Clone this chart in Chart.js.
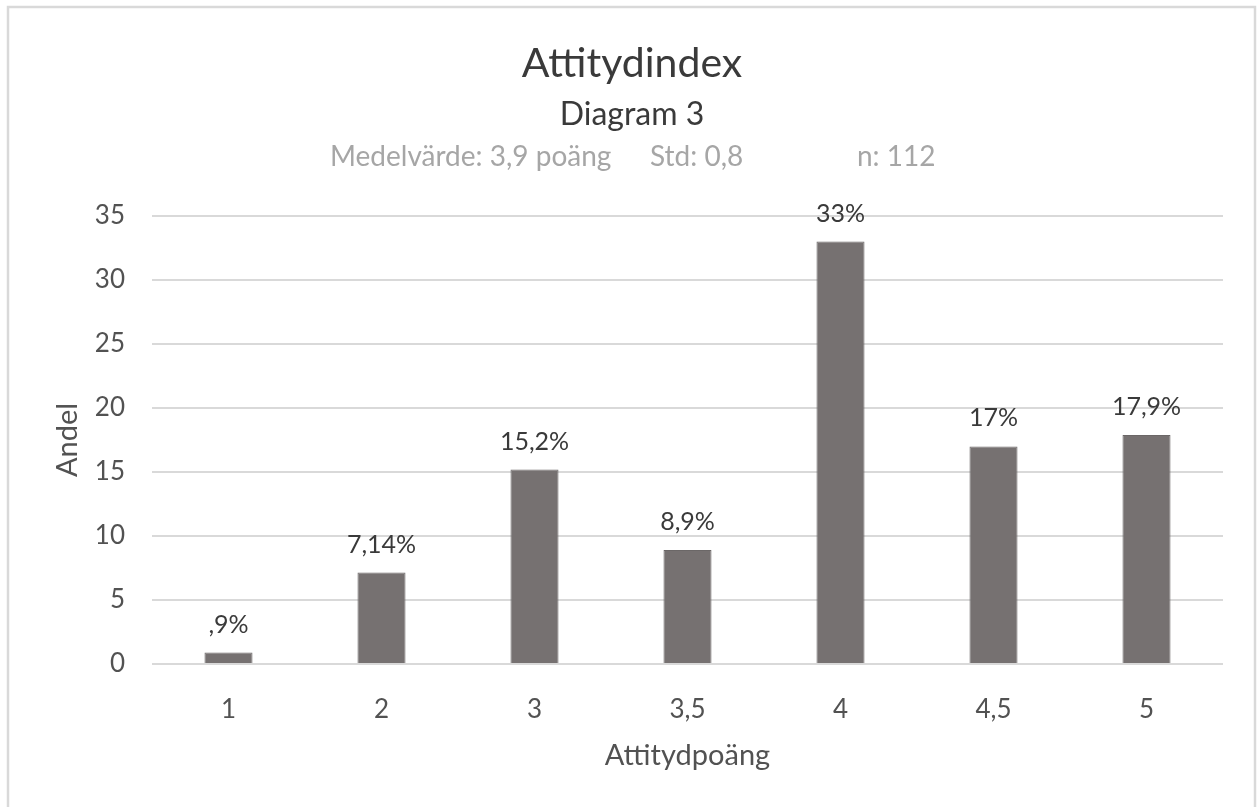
<!DOCTYPE html>
<html>
<head>
<meta charset="utf-8">
<script src="https://cdn.jsdelivr.net/npm/chart.js@4.4.1/dist/chart.umd.min.js"></script>
<style>
  html, body { margin: 0; padding: 0; background: #ffffff; }
  #wrap { position: relative; width: 1257px; height: 807px; }
</style>
</head>
<body>
<div id="wrap"><canvas id="chart" width="1257" height="807"></canvas></div>
<script>
// Attitude score categories and share of respondents (%)
const categories = ['1', '2', '3', '3,5', '4', '4,5', '5'];
const shares = [0.9, 7.14, 15.2, 8.9, 33, 17, 17.9];
const valueLabels = [',9%', '7,14%', '15,2%', '8,9%', '33%', '17%', '17,9%'];
const yTicks = [0, 5, 10, 15, 20, 25, 30, 35];

const titleText = 'Attitydindex';
const subTitleText = 'Diagram 3';
const statsParts = ['Medelvärde: 3,9 poäng', 'Std: 0,8', 'n: 112'];

const FONT = 'Lato, "Open Sans", sans-serif';

// Header lines, frame and value labels drawn on the canvas
const decorPlugin = {
  id: 'decor',
  beforeDraw(chart) {
    const ctx = chart.ctx;
    ctx.save();
    ctx.fillStyle = '#ffffff';
    ctx.fillRect(0, 0, chart.width, chart.height);
    ctx.strokeStyle = '#d9d9d9';
    ctx.lineWidth = 2.5;
    ctx.strokeRect(8, 7, 1247, 820);
    ctx.restore();
  },
  afterDraw(chart) {
    const ctx = chart.ctx;
    ctx.save();
    ctx.textBaseline = 'middle';
    ctx.textAlign = 'center';
    ctx.fillStyle = '#3a3a3a';
    ctx.font = '41px ' + FONT;
    ctx.fillText(titleText, 632, 64);
    ctx.font = '32px ' + FONT;
    ctx.fillText(subTitleText, 632, 115);
    ctx.fillStyle = '#a6a6a6';
    ctx.font = '28px ' + FONT;
    ctx.textAlign = 'left';
    const xs = [330, 650, 857];
    statsParts.forEach((t, i) => ctx.fillText(t, xs[i], 157));

    // value labels above bars
    ctx.textAlign = 'center';
    ctx.fillStyle = '#3a3a3a';
    ctx.font = '25px ' + FONT;
    const meta = chart.getDatasetMeta(0);
    meta.data.forEach((bar, i) => {
      ctx.fillText(valueLabels[i], bar.x, bar.y - 28);
    });
    ctx.restore();
  }
};

new Chart(document.getElementById('chart'), {
  type: 'bar',
  data: {
    labels: categories,
    datasets: [{
      data: shares,
      backgroundColor: '#767171',
      borderColor: '#6b6767',
      borderWidth: 1,
      barPercentage: 0.314,
      categoryPercentage: 1
    }]
  },
  options: {
    responsive: false,
    animation: false,
    devicePixelRatio: 1,
    layout: { padding: { top: 216, right: 34, bottom: 0, left: 0 } },
    plugins: {
      legend: { display: false },
      title: { display: false },
      tooltip: { enabled: false }
    },
    scales: {
      x: {
        grid: { display: false, drawTicks: false },
        border: { display: false },
        ticks: { color: '#525252', font: { family: FONT, size: 26 }, padding: 30 },
        title: {
          display: true,
          text: 'Attitydpoäng',
          color: '#525252',
          font: { family: FONT, size: 29 },
          padding: { top: 0, bottom: 34 }
        },
        afterFit(scale) { scale.height = 143; }
      },
      y: {
        min: 0,
        max: 35,
        afterBuildTicks(scale) { scale.ticks = yTicks.map(v => ({ value: v })); },
        grid: { color: '#d9d9d9', lineWidth: 2, drawTicks: false },
        border: { display: false },
        ticks: { color: '#525252', font: { family: FONT, size: 26 }, padding: 27 },
        title: {
          display: true,
          text: 'Andel',
          color: '#525252',
          font: { family: FONT, size: 29 },
          padding: { top: 50, bottom: 0 }
        },
        afterFit(scale) { scale.width = 152; }
      }
    }
  },
  plugins: [decorPlugin]
});
</script>
</body>
</html>
